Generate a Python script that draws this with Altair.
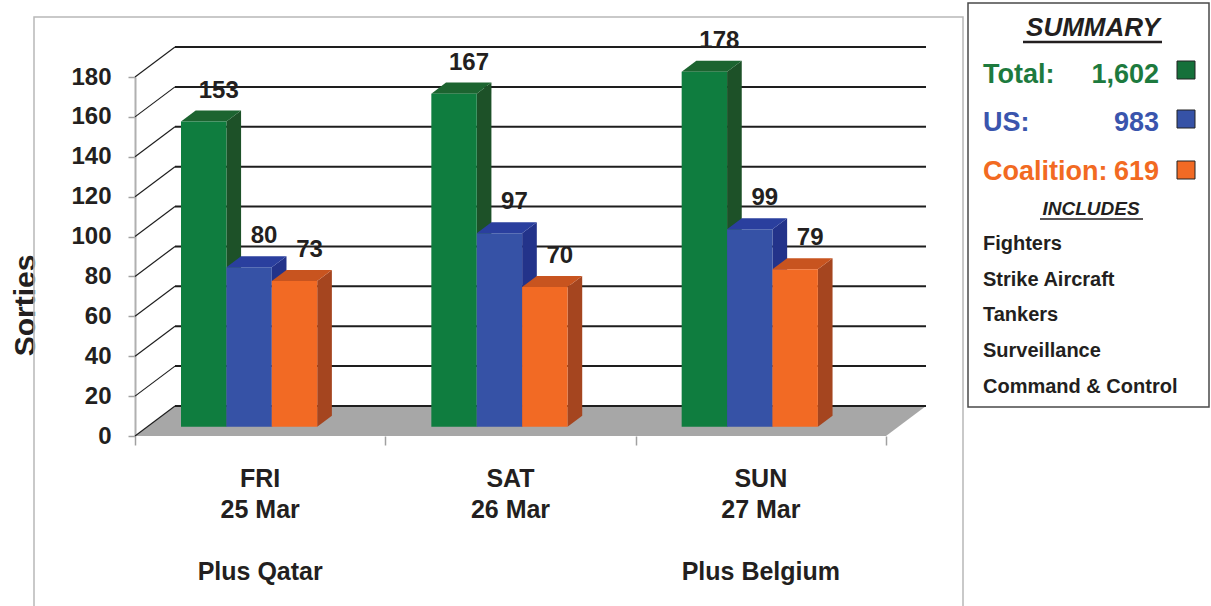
import altair as alt
import pandas as pd

# ---------------- data ----------------
days = ["FRI", "SAT", "SUN"]
dates = ["25 Mar", "26 Mar", "27 Mar"]
notes = ["Plus Qatar", "", "Plus Belgium"]
series = ["Total", "US", "Coalition"]
total_sorties = [153, 167, 178]
us_sorties = [80, 97, 99]
coalition_sorties = [73, 70, 79]
y_ticks = [0, 20, 40, 60, 80, 100, 120, 140, 160, 180]
summary_names = ["Total:", "US:", "Coalition:"]
summary_values = ["1,602", "983", "619"]
includes_items = ["Fighters", "Strike Aircraft", "Tankers", "Surveillance", "Command & Control"]

# ---------------- style / layout ----------------
FONT = "Liberation Sans"
DARK = "#231f20"
FRONT = {"Total": "#0f7d3f", "US": "#3652a6", "Coalition": "#f26a24"}
TOP = {"Total": "#1c6430", "US": "#2a3f9e", "Coalition": "#c8541f"}
SIDE = {"Total": "#1d5128", "US": "#23338a", "Coalition": "#a5451f"}
TEXTC = {"Total": "#1d7a3e", "US": "#3a55ad", "Coalition": "#f26a22"}
SQUARE = {"Total": "#15703a", "US": "#3652a6", "Coalition": "#f26a24"}

PAD_L, PAD_T = 135, 77
W, H = 751, 359
CANVAS_W, CANVAS_H = 1211, 606
Y_MAX = 180
N = len(days)
PX_X = W / N
PX_Y = H / Y_MAX
DX = 40 / PX_X          # 3-D depth shift in data units
DY = 30 / PX_Y
F0, F1 = 0.31, 0.677    # bar front / back depth fractions
BAR_OFF = 33.6 / PX_X
BAR_W = 45.4 / PX_X

xs = alt.Scale(domain=[0, N], nice=False, zero=False)
ys = alt.Scale(domain=[0, Y_MAX], nice=False, zero=False)
X_AXIS = alt.Axis(values=[0, 1, 2, 3], labels=False, tickSize=9, tickColor="#a0a0a0",
                  tickWidth=1.5, domain=False, grid=False, title=None)
Y_AXIS = alt.Axis(values=y_ticks, tickSize=7, tickColor="#a0a0a0", tickWidth=1.5,
                  domainColor="#b0b0b0", domainWidth=2, grid=False,
                  labelFont=FONT, labelFontSize=24, labelFontWeight="bold",
                  labelColor=DARK, labelPadding=17,
                  title="Sorties", titleFont=FONT, titleFontSize=30, titleFontWeight="bold",
                  titleColor=DARK, titleAngle=270, titleX=-101, titleY=228,
                  titleAlign="center", titleBaseline="alphabetic")


def X(f):
    return alt.X(f, type="quantitative", scale=xs, axis=X_AXIS)


def Y(f):
    return alt.Y(f, type="quantitative", scale=ys, axis=Y_AXIS, stack=False)


values = {"Total": total_sorties, "US": us_sorties, "Coalition": coalition_sorties}

bar_rows, side_rows, top_rows = [], [], []
for i, d in enumerate(days):
    for j, s in enumerate(series):
        v = values[s][i]
        bid = f"{d}-{s}"
        xl = i + BAR_OFF + j * BAR_W + F0 * DX
        xr = xl + BAR_W
        yb = F0 * DY
        yt = v + F0 * DY
        sx = (F1 - F0) * DX
        sy = (F1 - F0) * DY
        bar_rows.append(dict(id=bid, s=s, xl=xl, xr=xr, yb=yb, yt=yt,
                             xm=(xl + xr) / 2, lab=str(v), c=FRONT[s]))
        side_rows += [dict(id=bid, s=s, x=xr, y=yb, y2=yt, c=SIDE[s]),
                      dict(id=bid, s=s, x=xr + sx, y=yb + sy, y2=yt + sy, c=SIDE[s])]
        top_rows += [dict(id=bid, s=s, y=yt, x=xl, x2=xr, c=TOP[s]),
                     dict(id=bid, s=s, y=yt + sy, x=xl + sx, x2=xr + sx, c=TOP[s])]
bars = pd.DataFrame(bar_rows)
sides = pd.DataFrame(side_rows)
tops = pd.DataFrame(top_rows)

floor = pd.DataFrame({"y": [0, DY], "x": [0, DX], "x2": [N, N + DX]})
back = pd.DataFrame({"x": [DX] * len(y_ticks), "x2": [N + DX] * len(y_ticks),
                     "y": [v + DY for v in y_ticks]})
diag = pd.DataFrame({"x": [0] * len(y_ticks), "x2": [DX] * len(y_ticks),
                     "y": y_ticks, "y2": [v + DY for v in y_ticks]})
cats = pd.DataFrame({"xc": [i + 0.5 for i in range(N)], "day": days, "date": dates, "note": notes})
one = pd.DataFrame({"a": [0]})

layers = []

# outer chart frame
layers.append(alt.Chart(one).mark_rect(fillOpacity=0, stroke="#b8b8b8", strokeWidth=1.5).encode(
    x=alt.value(34 - PAD_L), x2=alt.value(963 - PAD_L),
    y=alt.value(17 - PAD_T), y2=alt.value(640 - PAD_T)))

# floor
layers.append(alt.Chart(floor).mark_area(orient="horizontal", color="#a7a7a7").encode(
    y=Y("y"), x=X("x"), x2="x2"))
# back wall gridlines
layers.append(alt.Chart(back).mark_rule(color="#1e1e1e", strokeWidth=2).encode(
    x=X("x"), x2="x2", y=Y("y")))
# side wall diagonals
layers.append(alt.Chart(diag).mark_rule(color="#1e1e1e", strokeWidth=1.2).encode(
    x=X("x"), x2="x2", y=Y("y"), y2="y2"))

# bars: side, top, front
layers.append(alt.Chart(sides).mark_area(orient="vertical").encode(
    x=X("x"), y=Y("y"), y2="y2", detail="id:N", color=alt.Color("c:N", scale=None)))
layers.append(alt.Chart(tops).mark_area(orient="horizontal").encode(
    y=Y("y"), x=X("x"), x2="x2", detail="id:N", color=alt.Color("c:N", scale=None)))
layers.append(alt.Chart(bars).mark_rect().encode(
    x=X("xl"), x2="xr", y=Y("yb"), y2="yt", color=alt.Color("c:N", scale=None)))
# value labels
layers.append(alt.Chart(bars).mark_text(font=FONT, fontSize=24, fontWeight="bold", color=DARK,
                                         dx=15, dy=-31, baseline="middle").encode(
    x=X("xm"), y=Y("yt"), text="lab:N"))

# category labels
for field, ybase in [("day", 487), ("date", 518), ("note", 580)]:
    layers.append(alt.Chart(cats).mark_text(font=FONT, fontSize=25, fontWeight="bold", color=DARK,
                                             baseline="alphabetic", align="center").encode(
        x=X("xc"), y=alt.value(ybase - PAD_T), text=f"{field}:N"))


def txt(s, x, y, size, color, align="left", italic=False):
    return alt.Chart(one).mark_text(text=s, font=FONT, fontSize=size, fontWeight="bold",
                                    fontStyle="italic" if italic else "normal",
                                    color=color, align=align, baseline="alphabetic").encode(
        x=alt.value(x - PAD_L), y=alt.value(y - PAD_T))


def rule(x1, x2, y, color, w):
    return alt.Chart(one).mark_rule(color=color, strokeWidth=w).encode(
        x=alt.value(x1 - PAD_L), x2=alt.value(x2 - PAD_L),
        y=alt.value(y - PAD_T), y2=alt.value(y - PAD_T))


def box(x1, x2, y1, y2, fill, stroke, w, opacity=1):
    return alt.Chart(one).mark_rect(fill=fill, fillOpacity=opacity, stroke=stroke, strokeWidth=w).encode(
        x=alt.value(x1 - PAD_L), x2=alt.value(x2 - PAD_L),
        y=alt.value(y1 - PAD_T), y2=alt.value(y2 - PAD_T))


# summary box
layers.append(box(968, 1209, 3, 407, "#ffffff", "#4a4a4a", 1.5, 0))
layers.append(txt("SUMMARY", 1093, 36, 26, DARK, "center", True))
layers.append(rule(1023, 1162, 42, DARK, 2.5))
for k, (nm, val, s) in enumerate(zip(summary_names, summary_values, series)):
    base = [83, 131, 180][k]
    layers.append(txt(nm, 983, base, 27, TEXTC[s]))
    layers.append(txt(val, 1159, base, 27, TEXTC[s], "right"))
    top_y = [61, 110, 161][k]
    layers.append(box(1177, 1195, top_y, top_y + 18, SQUARE[s], "#222222", 1))
layers.append(txt("INCLUDES", 1091, 215, 19, DARK, "center", True))
layers.append(rule(1040, 1143, 219, DARK, 1.5))
for k, item in enumerate(includes_items):
    layers.append(txt(item, 983, [250, 286, 321, 357, 393][k], 20, DARK))

chart = alt.layer(*layers).properties(
    width=W, height=H,
    padding={"left": PAD_L, "top": PAD_T, "right": CANVAS_W - PAD_L - W, "bottom": CANVAS_H - PAD_T - H},
    autosize="none", background="white",
).configure_view(strokeWidth=0)

chart.save("out.html", embed_options={"renderer": "svg", "actions": False})
